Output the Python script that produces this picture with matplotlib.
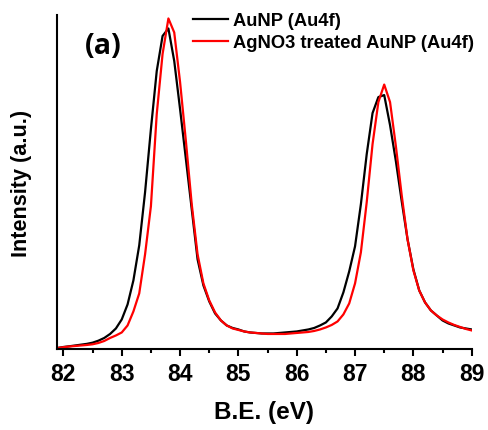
import matplotlib.pyplot as plt
import numpy as np

# binding energy grid (eV) and Au4f intensities (a.u.)
be = np.round(np.arange(81.9, 89.05, 0.1), 1)

aunp = [1.5, 2.5, 3.2, 4, 4.8, 5.6, 6.8, 8.8, 11.5, 15.5,
        21, 30, 45, 69, 104, 157, 220, 278, 313, 320.5,
        288, 240, 190, 140, 90, 64, 48, 36, 29, 24,
        21.5, 20, 18, 17, 16.5, 16, 16, 16, 16.5, 17,
        17.5, 18, 19, 20, 21.5, 24, 27, 33, 41, 57,
        78, 103, 145, 195, 236, 252, 254, 224, 188, 148,
        110, 80, 59, 47, 39, 34, 29, 26, 24, 22,
        21, 20]

agno3_aunp = [1.5, 2.3, 3, 3.5, 4, 4.5, 5.2, 6.5, 8.5, 11.5,
              14, 17, 24, 38, 56, 95, 143, 235, 295, 330.5,
              316.5, 267, 208, 145, 95, 66, 49, 37, 29, 24,
              21, 19.5, 18, 17, 16.5, 16, 15.5, 15.5, 15.5, 15.5,
              16, 16.5, 17, 17.5, 18.5, 20, 22, 24.5, 28, 35,
              46, 66, 97, 147, 205, 247, 264.5, 247, 203, 154,
              110, 79, 59, 47, 39, 34, 30, 27, 24.5, 22.5,
              20.5, 19]

labels = ['AuNP (Au4f)', 'AgNO3 treated AuNP (Au4f)']

plt.rcParams['font.family'] = ['Liberation Sans', 'DejaVu Sans']
plt.rcParams['font.weight'] = 'bold'

fig = plt.figure(figsize=(4.88, 4.31), dpi=100)
ax = fig.add_axes([0.1168, 0.1868, 0.8498, 0.7762])

ax.plot(be, aunp, color='black', lw=1.6, label=labels[0])
ax.plot(be, agno3_aunp, color='red', lw=1.6, label=labels[1])

ax.set_xlim(81.89, 89)
ax.set_ylim(0, 334)

ax.spines['top'].set_visible(False)
ax.spines['right'].set_visible(False)
ax.spines['left'].set_linewidth(1.5)
ax.spines['bottom'].set_linewidth(1.5)

ax.set_xticks(np.arange(82, 89.5, 1))
ax.set_xticks(np.arange(82.5, 89, 1), minor=True)
ax.set_yticks([])
ax.tick_params(axis='x', which='major', length=5, width=1.5, labelsize=16.5, pad=4)
ax.tick_params(axis='x', which='minor', length=3, width=1.5)
for lbl in ax.get_xticklabels():
    lbl.set_fontweight('bold')

ax.set_xlabel('B.E. (eV)', fontsize=17.5, fontweight='bold', labelpad=11)
ax.set_ylabel('Intensity (a.u.)', fontsize=15.6, fontweight='bold', labelpad=18)

ax.legend(loc='upper left', bbox_to_anchor=(193 / 488, 1 - 13 / 431),
          bbox_transform=fig.transFigure, frameon=False,
          handlelength=1.9, handletextpad=0.3, labelspacing=0.3,
          borderpad=0, borderaxespad=0, prop={'weight': 'bold', 'size': 13.2})

fig.text(103 / 488, 1 - 47 / 431, '(a)', fontsize=20.5, fontweight='bold',
         family=['Open Sans', 'DejaVu Sans'], ha='center', va='center')

fig.savefig('out.png', dpi=100)
